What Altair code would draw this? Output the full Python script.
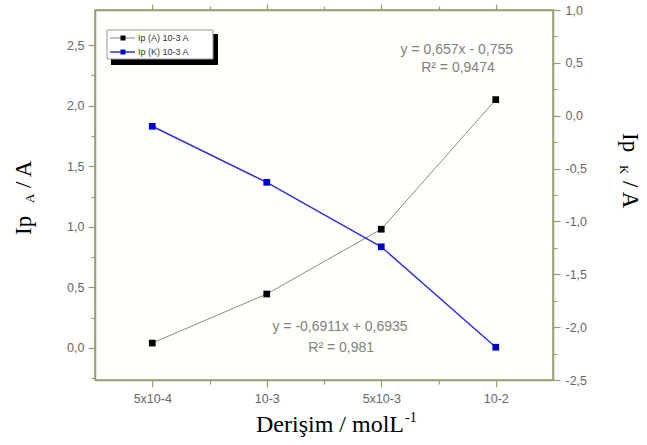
import json
import altair as alt
import pandas as pd

# ---- data ----
categories = ["5x10-4", "10-3", "5x10-3", "10-2"]
positions = [1, 2, 3, 4]
ip_a = [0.04, 0.445, 0.98, 2.05]      # left axis (black)
ip_k = [-0.10, -0.63, -1.24, -2.19]   # right axis (blue)

eq_text = ["y = 0,657x - 0,755", "R\u00b2 = 0,9474", "y = -0,6911x + 0,6935", "R\u00b2 = 0,981"]
eq_x = [3.66, 3.67, 2.64, 2.65]
eq_y = [2.46, 2.31, 0.17, 0.0]

df_a = pd.DataFrame({"pos": positions, "val": ip_a, "cat": categories})
df_k = pd.DataFrame({"pos": positions, "val": ip_k, "cat": categories})
df_eq = pd.DataFrame({"pos": eq_x, "val": eq_y, "t": eq_text})
one = pd.DataFrame({"a": [0]})

AX = "#9c9c72"
LBL = "#666666"
W, H = 458, 370

xdom = [0.5, 4.5]
ydom_a = [-0.265, 2.79]
ydom_k = [-2.5, 1.0]

cats_js = json.dumps(categories)
num_expr = "(datum.value < 0 ? '-' : '') + replace(format(abs(datum.value), '.1f'), '.', ',')"
is_major = "abs(datum.value*2 - round(datum.value*2)) < 0.01"
is_int = "abs(datum.value - round(datum.value)) < 0.01"

x_bottom = alt.Axis(
    values=[1, 1.5, 2, 2.5, 3, 3.5, 4], orient="bottom",
    labelExpr=f"{is_int} ? {cats_js}[round(datum.value)-1] : ''",
    tickSize={"condition": {"test": is_int, "value": 7}, "value": 4},
    title=None, grid=False, labelPadding=5, labelOverlap=False,
)
x_top = alt.Axis(
    values=[1, 1.5, 2, 2.5, 3, 3.5, 4], orient="top", labels=False,
    tickSize={"condition": {"test": is_int, "value": 6}, "value": 4},
    title=None, grid=False,
)
ya_vals = [round(-0.25 + 0.25 * i, 2) for i in range(12)]
yk_vals = [round(-2.5 + 0.25 * i, 2) for i in range(15)]
y_left = alt.Axis(
    values=ya_vals, orient="left",
    labelExpr=f"{is_major} ? {num_expr} : ''",
    tickSize={"condition": {"test": is_major, "value": 7}, "value": 4},
    title=None, grid=False, labelPadding=4, labelOverlap=False,
)
y_right = alt.Axis(
    values=yk_vals, orient="right",
    labelExpr=f"{is_major} ? {num_expr} : ''",
    tickSize={"condition": {"test": is_major, "value": 7}, "value": 4},
    title=None, grid=False, labelPadding=5, labelOverlap=False,
)

xs = alt.Scale(domain=xdom, nice=False, zero=False)
xa = alt.X("pos:Q", scale=xs, axis=x_bottom)
ya = alt.Y("val:Q", scale=alt.Scale(domain=ydom_a, nice=False, zero=False), axis=y_left)
xk = alt.X("pos:Q", scale=xs, axis=x_top)
yk = alt.Y("val:Q", scale=alt.Scale(domain=ydom_k, nice=False, zero=False), axis=y_right)

line_a = alt.Chart(df_a).mark_line(color="#8a8a8a", strokeWidth=1).encode(x=xa, y=ya)
pts_a = alt.Chart(df_a).mark_square(color="#000000", size=45, opacity=1).encode(x=xa, y=ya)

eq = alt.Chart(df_eq).mark_text(
    font="Liberation Sans", fontSize=14, color="#808080", align="center", baseline="middle"
).encode(x=xa, y=ya, text="t:N")

def txt(s, x, y, size, angle=0, align="left", baseline="alphabetic", font="Liberation Serif", color="#000000"):
    kw = dict(text=s, font=font, fontSize=size, align=align, baseline=baseline, color=color)
    if angle:
        kw["angle"] = angle
    return alt.Chart(one).mark_text(**kw).encode(x=alt.value(x), y=alt.value(y))

OX, OY = 95, 10  # plot origin on the page
titles = [
    # left title
    txt("Ip", 31 - OX, 235 - OY, 23, angle=270),
    txt("A", 34 - OX, 203 - OY, 13, angle=270),
    txt("/ A", 31 - OX, 188 - OY, 23, angle=270),
    # right title
    txt("Ip", 623 - OX, 133 - OY, 23, angle=90),
    txt("K", 620 - OX, 165 - OY, 13, angle=90),
    txt("/ A", 623 - OX, 181 - OY, 23, angle=90),
    # bottom title
    txt("Derişim / molL", 404 - OX, 432 - OY, 24, align="right"),
    txt("-1", 405 - OX, 422 - OY, 14),
]

# legend box (shadow + frame)
shadow = alt.Chart(one).mark_rect(color="#000000").encode(
    x=alt.value(111 - OX), x2=alt.value(218 - OX), y=alt.value(34 - OY), y2=alt.value(65 - OY))
frame = alt.Chart(one).mark_rect(fill="#ffffff", stroke="#999999", strokeWidth=1).encode(
    x=alt.value(107 - OX), x2=alt.value(213 - OX), y=alt.value(30 - OY), y2=alt.value(59 - OY))
leg_l1 = alt.Chart(one).mark_rule(color="#8a8a8a", strokeWidth=1).encode(
    x=alt.value(110 - OX), x2=alt.value(135 - OX), y=alt.value(38 - OY))
leg_l2 = alt.Chart(one).mark_rule(color="#3030e0", strokeWidth=1.5).encode(
    x=alt.value(110 - OX), x2=alt.value(135 - OX), y=alt.value(52 - OY))
leg_p1 = alt.Chart(one).mark_square(color="#000000", size=25, opacity=1).encode(
    x=alt.value(123 - OX), y=alt.value(38 - OY))
leg_p2 = alt.Chart(one).mark_square(color="#0000cc", size=25, opacity=1).encode(
    x=alt.value(123 - OX), y=alt.value(52 - OY))
leg_t1 = txt("Ip (A)  10-3 A", 138 - OX, 38 - OY, 9, baseline="middle", font="Liberation Sans", color="#333333")
leg_t2 = txt("Ip (K) 10-3 A", 138 - OX, 52 - OY, 9, baseline="middle", font="Liberation Sans", color="#333333")

layer_a = alt.layer(line_a, pts_a, eq, *titles, shadow, frame, leg_l1, leg_l2, leg_p1, leg_p2, leg_t1, leg_t2)

line_k = alt.Chart(df_k).mark_line(color="#3030e0", strokeWidth=1.5).encode(x=xk, y=yk)
pts_k = alt.Chart(df_k).mark_square(color="#0000cc", size=45, opacity=1).encode(x=xk, y=yk)
layer_k = alt.layer(line_k, pts_k)

chart = alt.layer(layer_a, layer_k).resolve_scale(x="independent", y="independent").properties(
    width=W, height=H,
    autosize=alt.AutoSizeParams(type="none"),
    padding={"left": OX, "top": OY, "right": 647 - OX - W, "bottom": 445 - OY - H},
    background="#ffffff",
).configure_view(stroke=AX, strokeWidth=1.5, fill="#fffffc").configure_axis(
    domainColor=AX, domainWidth=1.5, tickColor=AX, tickWidth=1.2,
    labelColor=LBL, labelFont="Liberation Sans", labelFontSize=12.5,
)

chart.save("out.html", embed_options={"renderer": "svg", "actions": False})
